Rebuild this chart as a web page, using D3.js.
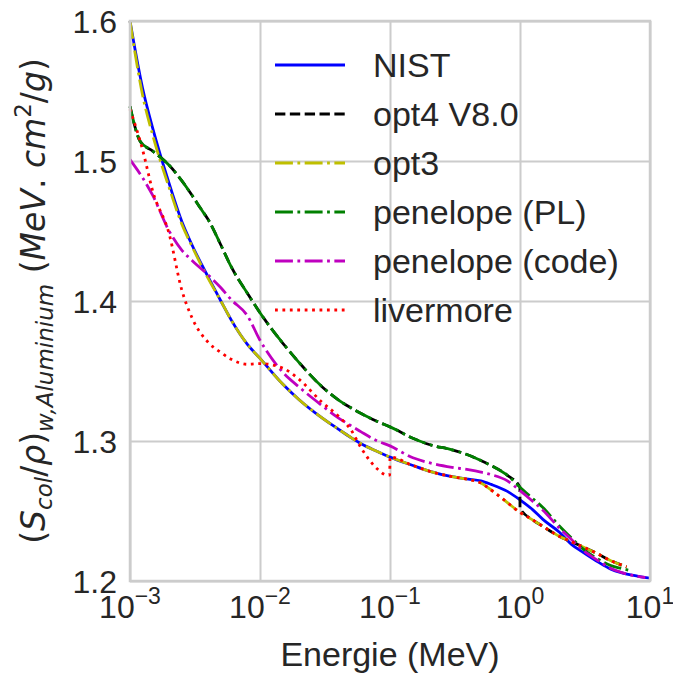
<!DOCTYPE html>
<html>
<head>
<meta charset="utf-8">
<script src="https://cdn.jsdelivr.net/npm/d3@7/dist/d3.min.js"></script>
<style>
body { margin: 0; background: #fff; }
text { font-family: "Liberation Sans", Arial, sans-serif; fill: #262626; }
</style>
</head>
<body>
<div id="chart"></div>
<script>

// energies (MeV) and stopping power ratios
var nistE   = [0.001,0.00125,0.0015,0.002,0.0025,0.003,0.004,0.005,0.006,0.008,0.01,0.015,0.02,0.03,0.04,0.05,0.06,0.08,0.1,0.15,0.2,0.3,0.4,0.5,0.6,0.8,1,1.25,1.5,2,2.5,3,4,5,6,8,10];
var nistV   = [1.600,1.552,1.523,1.484,1.457,1.440,1.417,1.400,1.3865,1.369,1.359,1.3405,1.3295,1.3165,1.3085,1.3025,1.298,1.2925,1.2885,1.2825,1.2785,1.2745,1.2728,1.2715,1.269,1.264,1.258,1.251,1.244,1.235,1.226,1.221,1.2135,1.2085,1.206,1.2035,1.202];

var opt4E   = [0.001,0.0012,0.0015,0.002,0.0025,0.003,0.0035,0.004,0.005,0.006,0.008,0.01,0.015,0.02,0.03,0.04,0.05,0.06,0.08,0.1,0.15,0.2,0.3,0.4,0.5,0.6,0.8,0.998,1,1.25,1.5,2,2.5,3,4,5,6,6.6];
var opt4V   = [1.539,1.514,1.507,1.497,1.486,1.4755,1.466,1.458,1.440,1.4245,1.4055,1.3916,1.3698,1.356,1.3388,1.3294,1.3237,1.3196,1.3139,1.3101,1.302,1.2975,1.2937,1.290,1.286,1.2825,1.2755,1.267,1.252,1.2437,1.239,1.232,1.228,1.2247,1.2192,1.2145,1.2115,1.2102];

var opt3E   = [0.001,0.00125,0.0015,0.002,0.0025,0.003,0.004,0.005,0.006,0.008,0.01,0.015,0.02,0.03,0.04,0.05,0.06,0.08,0.1,0.15,0.2,0.3,0.4,0.5,0.6,0.8,1,1.25,1.5,2,2.5,3,4,5,6,6.6];
var opt3V   = [1.600,1.547,1.518,1.481,1.455,1.439,1.416,1.400,1.3865,1.369,1.359,1.3405,1.3295,1.3165,1.3085,1.3025,1.298,1.2925,1.2885,1.2825,1.2785,1.2745,1.2725,1.270,1.265,1.256,1.249,1.2437,1.239,1.232,1.228,1.2247,1.2192,1.2145,1.2115,1.2102];

var penPlE  = [0.001,0.0012,0.0015,0.002,0.0025,0.003,0.0035,0.004,0.005,0.006,0.008,0.01,0.015,0.02,0.03,0.04,0.05,0.06,0.08,0.1,0.15,0.2,0.3,0.4,0.5,0.6,0.8,1,1.25,1.5,2,2.5,3,4,5,6,6.8];
var penPlV  = [1.539,1.514,1.507,1.497,1.486,1.4755,1.466,1.458,1.440,1.4245,1.4055,1.3916,1.3698,1.356,1.3388,1.3294,1.3237,1.3196,1.3139,1.3101,1.302,1.2975,1.2937,1.290,1.286,1.2825,1.2755,1.267,1.259,1.2525,1.2395,1.2305,1.2235,1.2155,1.211,1.209,1.2078];

var penCodeE = [0.001,0.00125,0.0015,0.002,0.0025,0.003,0.004,0.005,0.006,0.008,0.01,0.015,0.02,0.03,0.04,0.05,0.06,0.08,0.1,0.15,0.2,0.3,0.4,0.5,0.6,0.8,1,1.25,1.5,2,2.5,3,4,5,6,8,9.2];
var penCodeV = [1.501,1.488,1.4752,1.450,1.4364,1.429,1.4185,1.4095,1.401,1.3895,1.372,1.349,1.3385,1.3253,1.3165,1.311,1.3065,1.300,1.2965,1.288,1.2845,1.2812,1.2795,1.2778,1.276,1.2715,1.2645,1.257,1.2505,1.238,1.2295,1.2225,1.2145,1.209,1.2062,1.2033,1.2025];

var livE    = [0.001,0.00125,0.0015,0.002,0.0025,0.003,0.004,0.005,0.006,0.008,0.01,0.015,0.02,0.03,0.04,0.05,0.06,0.08,0.095,0.0995,0.1,0.15,0.2,0.3,0.4,0.5,0.6,0.8,1,1.25,1.5,2,2.5,3,4,5,6,6.6];
var livV    = [1.537,1.508,1.478,1.448,1.408,1.388,1.3704,1.3632,1.3584,1.3548,1.3553,1.352,1.344,1.3277,1.3178,1.308,1.295,1.280,1.2757,1.2757,1.2885,1.2825,1.2785,1.2745,1.2725,1.270,1.265,1.256,1.249,1.2437,1.239,1.232,1.228,1.2247,1.2192,1.2145,1.2115,1.2102];

var seriesNames = ["NIST", "opt4 V8.0", "opt3", "penelope (PL)", "penelope (code)", "livermore"];
var xTicks = [1e-3, 1e-2, 1e-1, 1, 10];
var xTickExp = ["\u22123", "\u22122", "\u22121", "0", "1"];
var yTicks = [1.2, 1.3, 1.4, 1.5, 1.6];

var lw = 2.8;
var series = [
    {name: seriesNames[0], e: nistE, v: nistV, color: "#0000ff", dash: null},
    {name: seriesNames[1], e: opt4E, v: opt4V, color: "#000000", dash: [3.7*lw, 1.6*lw]},
    {name: seriesNames[2], e: opt3E, v: opt3V, color: "#bfbf00", dash: [6.4*lw, 1.6*lw, 1*lw, 1.6*lw]},
    {name: seriesNames[3], e: penPlE, v: penPlV, color: "#008000", dash: [6.4*lw, 1.6*lw, 1*lw, 1.6*lw]},
    {name: seriesNames[4], e: penCodeE, v: penCodeV, color: "#bf00bf", dash: [6.4*lw, 1.6*lw, 1*lw, 1.6*lw]},
    {name: seriesNames[5], e: livE, v: livV, color: "#ff0000", dash: [1*lw, 1.65*lw]}
];

var margin = {top: 21, right: 23, bottom: 92, left: 130},
    width = 673 - margin.left - margin.right,
    height = 673 - margin.top - margin.bottom;

var svg = d3.select("#chart").append("svg")
    .attr("width", 673)
    .attr("height", 673);

var g = svg.append("g")
    .attr("transform", "translate(" + margin.left + "," + margin.top + ")");

var x = d3.scaleLog().domain([1e-3, 10]).range([0, width]);
var y = d3.scaleLinear().domain([1.2, 1.6]).range([height, 0]);

// grid
var gx = g.append("g")
    .attr("transform", "translate(0," + height + ")")
    .call(d3.axisBottom(x).tickValues(xTicks).tickSize(-height).tickFormat(""));
var gy = g.append("g")
    .call(d3.axisLeft(y).tickValues(yTicks).tickSize(-width).tickFormat(""));
[gx, gy].forEach(function (a) {
    a.select(".domain").remove();
    a.selectAll("line").attr("stroke", "#cccccc").attr("stroke-width", 2);
});

// curves
var line = d3.line()
    .curve(d3.curveMonotoneX)
    .x(function (d) { return x(d[0]); })
    .y(function (d) { return y(d[1]); });

series.forEach(function (s) {
    var pts = s.e.map(function (e, i) { return [e, s.v[i]]; });
    g.append("path")
        .datum(pts)
        .attr("fill", "none")
        .attr("stroke", s.color)
        .attr("stroke-width", lw)
        .attr("stroke-dasharray", s.dash ? s.dash.join(",") : null)
        .attr("d", line);
});

// frame
g.append("rect")
    .attr("width", width)
    .attr("height", height)
    .attr("fill", "none")
    .attr("stroke", "#cccccc")
    .attr("stroke-width", 2.5);

// tick labels
xTicks.forEach(function (t, i) {
    var tx = g.append("text")
        .attr("x", x(t))
        .attr("y", height + 37)
        .attr("text-anchor", "middle")
        .style("font-size", "32px");
    tx.append("tspan").text("10");
    tx.append("tspan").attr("dy", -14).style("font-size", "23px").text(xTickExp[i]);
});

yTicks.forEach(function (t) {
    g.append("text")
        .attr("x", -13)
        .attr("y", y(t))
        .attr("dy", "0.36em")
        .attr("text-anchor", "end")
        .style("font-size", "32px")
        .text(d3.format(".1f")(t));
});

// axis titles
svg.append("text")
    .attr("x", margin.left + width / 2)
    .attr("y", 666)
    .attr("text-anchor", "middle")
    .style("font-size", "34px")
    .text("Energie (MeV)");

var yl = svg.append("text")
    .attr("transform", "translate(45," + (margin.top + height / 2) + ") rotate(-90)")
    .attr("text-anchor", "middle")
    .style("font-family", "'DejaVu Sans', sans-serif")
    .style("font-size", "33px");
var parts = [
    ["(", 0, 33, false], ["S", 0, 33, true], ["col", 7, 23, true], ["/", -7, 33, false],
    ["\u03c1", 0, 33, true], [")", 0, 33, false], ["w,Aluminium", 8, 23, true],
    ["\u00a0(", -8, 33, false], ["MeV", 0, 33, true], [".\u00a0", 0, 33, false],
    ["cm", 0, 33, true], ["2", -14, 23, false], ["/", 14, 33, false], ["g", 0, 33, true], [")", 0, 33, false]
];
parts.forEach(function (p) {
    yl.append("tspan")
        .attr("dy", p[1])
        .style("font-size", p[2] + "px")
        .style("font-style", p[3] ? "italic" : "normal")
        .text(p[0]);
});

// legend
var legend = svg.append("g").attr("transform", "translate(275,65)");
series.forEach(function (s, i) {
    var row = legend.append("g").attr("transform", "translate(0," + (i * 49) + ")");
    row.append("line")
        .attr("x1", 0).attr("x2", 70)
        .attr("stroke", s.color)
        .attr("stroke-width", lw)
        .attr("stroke-dasharray", s.dash ? s.dash.join(",") : null);
    row.append("text")
        .attr("x", 98)
        .attr("dy", "0.35em")
        .style("font-size", "34px")
        .text(s.name);
});

</script>
</body>
</html>
